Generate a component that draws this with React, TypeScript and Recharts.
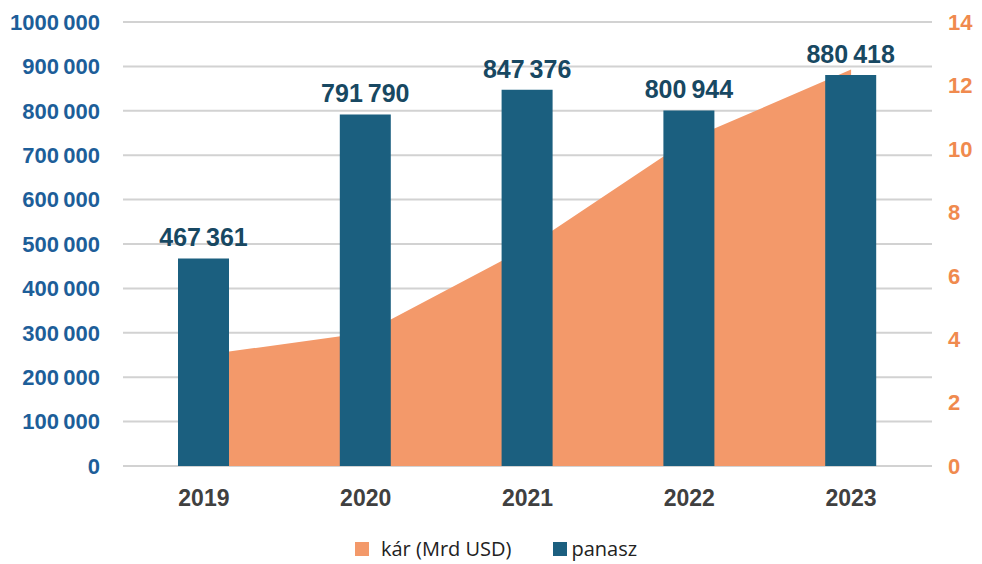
import {
  Area,
  Bar,
  CartesianGrid,
  ComposedChart,
  LabelList,
  XAxis,
  YAxis,
} from "recharts";

const years = ["2019", "2020", "2021", "2022", "2023"];
const panasz = [467361, 791790, 847376, 800944, 880418];
const kar = [3.5, 4.2, 6.9, 10.3, 12.5];
const leftTicks = [0, 100000, 200000, 300000, 400000, 500000, 600000, 700000, 800000, 900000, 1000000];
const rightTicks = [0, 2, 4, 6, 8, 10, 12, 14];

const BAR = "#1b5f7f";
const AREA = "#f3996a";
const ORANGE = "#f08a4e";
const BLUE = "#1d5e99";
const FONT = "'Liberation Sans', Arial, sans-serif";

const data = years.map((year, i) => ({ year, panasz: panasz[i], kar: kar[i] }));

// "1000 000" style: only the last group is split off
function groupLast(v: number): string {
  const s = String(v);
  if (s.length <= 3) return s;
  return s.slice(0, -3) + "\u2009" + s.slice(-3);
}

function groupAll(v: number): string {
  return String(v).replace(/\B(?=(\d{3})+(?!\d))/g, "\u2009");
}

export default function App() {
  return (
    <div style={{ position: "absolute", left: 0, top: 0, width: 982, height: 564, background: "#fff", overflow: "hidden" }}>
      <ComposedChart
        width={982}
        height={564}
        data={data}
        margin={{ top: 22, right: 0, left: 0, bottom: 48 }}
      >
        <CartesianGrid yAxisId="left" vertical={false} stroke="#d2d2d2" strokeWidth={2} />
        <XAxis
          dataKey="year"
          height={50}
          axisLine={false}
          tickLine={false}
          tickSize={0}
          tickMargin={24}
          tick={{ fontSize: 23, fontWeight: 700, fill: "#404040", fontFamily: FONT }}
        />
        <YAxis
          yAxisId="left"
          orientation="left"
          width={123}
          domain={[0, 1000000]}
          ticks={leftTicks}
          interval={0}
          axisLine={false}
          tickLine={false}
          tickSize={0}
          tickMargin={23}
          tickFormatter={groupLast}
          tick={{ fontSize: 22, fontWeight: 700, fill: BLUE, fontFamily: FONT }}
        />
        <YAxis
          yAxisId="right"
          orientation="right"
          width={50}
          domain={[0, 14]}
          ticks={rightTicks}
          interval={0}
          axisLine={false}
          tickLine={false}
          tickSize={0}
          tickMargin={16}
          tick={{ fontSize: 22, fontWeight: 700, fill: ORANGE, fontFamily: FONT }}
        />
        <Area
          yAxisId="right"
          type="linear"
          dataKey="kar"
          stroke="none"
          fill={AREA}
          fillOpacity={1}
          isAnimationActive={false}
        />
        <Bar yAxisId="left" dataKey="panasz" fill={BAR} barSize={51} isAnimationActive={false}>
          <LabelList
            dataKey="panasz"
            position="top"
            offset={12}
            formatter={(v: any) => groupAll(Number(v))}
            style={{ fontSize: 25, fontWeight: 700, fill: "#184862", fontFamily: FONT }}
          />
        </Bar>
      </ComposedChart>
      <div
        style={{
          position: "absolute",
          left: 355,
          top: 536,
          display: "flex",
          alignItems: "center",
          fontFamily: "'Open Sans', sans-serif",
          fontSize: 20,
          lineHeight: "26px",
          color: "#222",
          whiteSpace: "nowrap",
        }}
      >
        <span style={{ width: 14, height: 14, background: AREA, display: "inline-block", marginRight: 12 }} />
        <span>kár (Mrd USD)</span>
        <span style={{ width: 14, height: 14, background: BAR, display: "inline-block", marginLeft: 42, marginRight: 4 }} />
        <span>panasz</span>
      </div>
    </div>
  );
}
